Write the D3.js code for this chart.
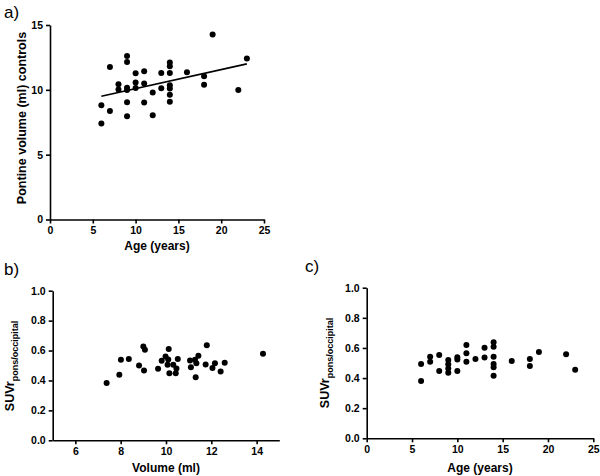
<!DOCTYPE html>
<html>
<head>
<meta charset="utf-8">
<script src="https://cdn.jsdelivr.net/npm/d3@7"></script>
<style>
  html, body { margin: 0; padding: 0; background: #fff; }
  svg { display: block; }
  text { font-family: "Liberation Sans", Arial, Helvetica, sans-serif; }
</style>
</head>
<body>
<svg id="chart" width="600" height="476"></svg>
<script>
// ---------- Data ----------
// Panel a: age (years) vs pontine volume (ml), controls
const ageA = [6,6,7,7,8,8,9,9,9,9,9,9,10,10,10,11,11,11,12,12,13,13,14,14,14,14,14,14,14,16,18,18,19,22,23];
const volA = [8.81,7.40,11.76,8.37,10.43,10.02,12.61,12.15,10.17,9.99,9.04,7.96,11.28,10.56,10.15,11.43,10.48,9.02,9.79,8.04,11.30,10.12,12.10,11.82,11.30,10.35,10.10,9.63,9.09,11.35,11.05,10.40,14.26,9.99,12.41];
// regression line endpoints (panel a)
const fitX = [6, 23];
const fitY = [9.50, 12.00];

// Panel b: volume (ml) vs SUVr pons/occipital
const volB = [7.38,7.94,8.01,8.36,8.81,9.00,9.07,9.03,9.65,9.81,9.98,10.12,10.07,10.10,10.15,10.32,10.43,10.46,10.52,11.06,11.10,11.28,11.34,11.43,11.31,11.80,11.75,12.05,12.16,12.41,12.59,14.28];
const suvB = [0.383,0.438,0.538,0.543,0.500,0.627,0.605,0.467,0.478,0.532,0.560,0.610,0.505,0.540,0.449,0.505,0.449,0.480,0.543,0.533,0.489,0.538,0.515,0.565,0.422,0.635,0.507,0.483,0.515,0.460,0.518,0.578];

// Panel c: age (years) vs SUVr pons/occipital
const ageC = [6,6,7,7,8,8,9,9,9,9,10,10,10,11,11,11,12,13,13,14,14,14,14,14,14,16,18,18,19,22,23];
const suvC = [0.493,0.380,0.542,0.508,0.553,0.447,0.520,0.491,0.464,0.435,0.538,0.524,0.447,0.619,0.564,0.508,0.526,0.601,0.537,0.637,0.608,0.542,0.493,0.471,0.415,0.513,0.527,0.480,0.573,0.558,0.456];

// Tick values
const ticksAx = [0,5,10,15,20,25];
const ticksAy = [0,5,10,15];
const ticksBx = [6,8,10,12,14];
const ticksSUV = [0,0.2,0.4,0.6,0.8,1.0];
const ticksCx = [0,5,10,15,20,25];

// ---------- Drawing ----------
const svg = d3.select("#chart");
const R = 3;

function panel(opts) {
  const g = svg.append("g");
  const x = d3.scaleLinear().domain(opts.xDomain).range(opts.xRange);
  const y = d3.scaleLinear().domain(opts.yDomain).range(opts.yRange);

  const xAxis = d3.axisBottom(x).tickValues(opts.xTicks).tickSize(4).tickSizeOuter(0).tickPadding(3)
    .tickFormat(opts.xFmt || d3.format("d"));
  const yAxis = d3.axisLeft(y).tickValues(opts.yTicks).tickSize(4).tickSizeOuter(0).tickPadding(3)
    .tickFormat(opts.yFmt || d3.format("d"));

  const gx = g.append("g").attr("transform", `translate(0,${opts.yRange[0]})`).call(xAxis);
  const gy = g.append("g").attr("transform", `translate(${opts.xRange[0]},0)`).call(yAxis);
  [gx, gy].forEach(a => {
    a.selectAll("path, line").attr("stroke", "#000").attr("stroke-width", 1.6);
    a.selectAll("text").attr("fill", "#000").style("font-size", "10.5px").style("font-weight", "bold");
  });

  g.append("g").selectAll("circle")
    .data(opts.xs.map((d, i) => [d, opts.ys[i]]))
    .join("circle")
    .attr("cx", d => x(d[0]))
    .attr("cy", d => y(d[1]))
    .attr("r", R)
    .attr("fill", "#000");

  return { g, x, y };
}

// Panel a
const pa = panel({
  xDomain: [0, 25], xRange: [50, 264],
  yDomain: [0, 15], yRange: [219.5, 25],
  xTicks: ticksAx, yTicks: ticksAy,
  xs: ageA, ys: volA
});
pa.g.append("line")
  .attr("x1", pa.x(fitX[0])).attr("y1", pa.y(fitY[0]))
  .attr("x2", pa.x(fitX[1])).attr("y2", pa.y(fitY[1]))
  .attr("stroke", "#000").attr("stroke-width", 1.6);

// Panel b
const pb = panel({
  xDomain: [5, 15], xRange: [52.7, 279.3],
  yDomain: [0, 1], yRange: [440.3, 290.7],
  xTicks: ticksBx, yTicks: ticksSUV,
  yFmt: d3.format(".1f"),
  xs: volB, ys: suvB
});

// Panel c
const pc = panel({
  xDomain: [0, 25], xRange: [366.7, 593.3],
  yDomain: [0, 1], yRange: [438.3, 287.7],
  xTicks: ticksCx, yTicks: ticksSUV,
  yFmt: d3.format(".1f"),
  xs: ageC, ys: suvC
});

// Panel letters
svg.append("text").attr("x", 4).attr("y", 18).style("font-size", "17px").text("a)");
svg.append("text").attr("x", 4).attr("y", 275).style("font-size", "17px").text("b)");
svg.append("text").attr("x", 305).attr("y", 272).style("font-size", "17px").text("c)");

// Axis titles
function xTitle(x, y, txt) {
  svg.append("text").attr("x", x).attr("y", y).attr("text-anchor", "middle")
    .style("font-size", "12px").style("font-weight", "bold").text(txt);
}
function yTitle(x, y, txt, sub) {
  const t = svg.append("text").attr("transform", `translate(${x},${y}) rotate(-90)`)
    .attr("text-anchor", "middle").style("font-size", "12.5px").style("font-weight", "bold");
  t.append("tspan").text(txt);
  if (sub) t.append("tspan").attr("dy", 3.5).style("font-size", "9px").text(sub);
}
xTitle(157, 250, "Age (years)");
yTitle(26, 118, "Pontine volume (ml) controls");
xTitle(166, 472, "Volume (ml)");
yTitle(14, 366, "SUVr", "pons/occipital");
xTitle(480, 472, "Age (years)");
yTitle(329, 363, "SUVr", "pons/occipital");
</script>
</body>
</html>
